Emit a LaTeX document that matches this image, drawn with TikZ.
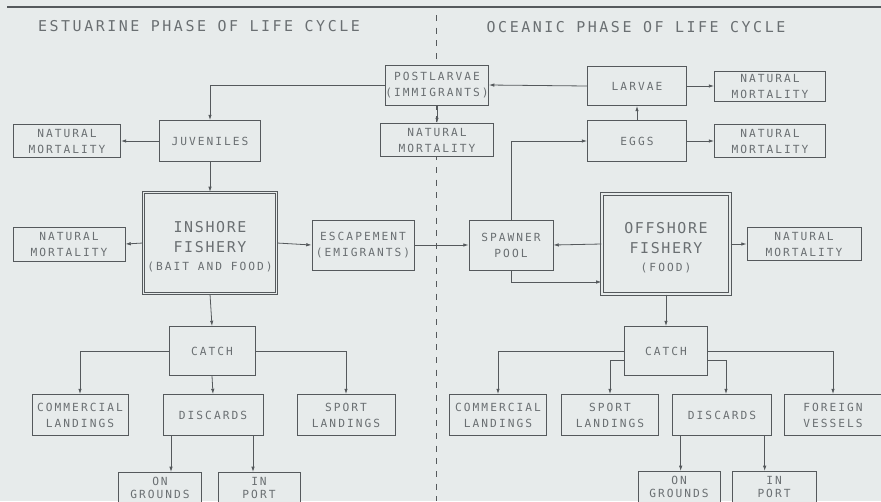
\documentclass[tikz,border=0pt]{standalone}
\usepackage{fontspec}
\setmainfont{Liberation Sans}
\newfontfamily\lettering[LetterSpace=18]{DejaVu Sans Mono}
\newfontfamily\biglettering[LetterSpace=11]{DejaVu Sans Mono}
\newfontfamily\titlelettering[LetterSpace=17]{DejaVu Sans Mono}
\usetikzlibrary{positioning}
\usetikzlibrary {arrows.meta}

\definecolor{paper}{HTML}{E7EBEB}
\definecolor{ink}{HTML}{55595C}
\definecolor{letters}{HTML}{6A6F72}

\begin{document}
\begin{tikzpicture}[x=0.75pt,y=-0.75pt,
  wh/.style 2 args={minimum width=#1*0.75pt,minimum height=#2*0.75pt},
  box/.style={draw=ink,fill=paper,line width=0.6pt,inner sep=0pt,align=center,text=letters,font=\boxfont},
  cutbox/.style={box,anchor=north,inner ysep=3.6pt,text depth=24pt},
  bigbox/.style={box,line width=0.8pt,double=paper,double distance=0.9pt},
  arr/.style={draw=ink,line width=0.6pt,-{Latex[length=4pt,width=2.6pt]}}]

\def\boxfont{\lettering\fontsize{8.4}{12}\selectfont}
\def\titlefont{\titlelettering\fontsize{11.2}{13}\selectfont}
\def\bigfont{\biglettering\fontsize{11.2}{12}\selectfont}

\useasboundingbox (0,0) rectangle (881,501);
\clip (0,0) rectangle (881,501);
\fill[paper] (0,0) rectangle (881,501);

% heading rule and phase divider
\draw[ink,line width=1.1pt] (7,7) -- (881,7);
\draw[ink,line width=0.6pt,dash pattern=on 4.5pt off 5pt] (436,15) -- (436,501);

\node[font=\titlefont,text=letters] (estuary) at (199,26) {ESTUARINE PHASE OF LIFE CYCLE};
\node[font=\titlefont,text=letters] (ocean) at (636,27) {OCEANIC PHASE OF LIFE CYCLE};

% upper part
\node[box,wh={100}{40}] (post) at (437,85) {POSTLARVAE\\(IMMIGRANTS)};
\node[box,wh={113}{33}] (nmpost) at (437,140) {NATURAL\\MORTALITY};
\node[box,wh={101}{41}] (juv) at (210,141) {JUVENILES};
\node[box,wh={107}{33}] (nmjuv) at (67,141) {NATURAL\\MORTALITY};
\node[box,wh={99}{39}] (larv) at (637,86) {LARVAE};
\node[box,wh={111}{30}] (nmlarv) at (770,86) {NATURAL\\MORTALITY};
\node[box,wh={99}{41}] (eggs) at (637,141) {EGGS};
\node[box,wh={111}{33}] (nmeggs) at (770,141) {NATURAL\\MORTALITY};

% fisheries
\node[bigbox,wh={133}{101}] (inshore) at (210,243) {\bigfont\rule{0pt}{14pt}INSHORE\\[3.5pt]\bigfont FISHERY\\[1.5pt]\boxfont (BAIT AND FOOD)};
\node[box,wh={112}{34}] (nmin) at (69,244) {NATURAL\\MORTALITY};
\node[box,wh={102}{50}] (escape) at (363,245) {ESCAPEMENT\\(EMIGRANTS)};
\node[box,wh={84}{50}] (spawn) at (511,245) {SPAWNER\\POOL};
\node[bigbox,wh={128}{100}] (offshore) at (666,244) {\bigfont\rule{0pt}{14pt}OFFSHORE\\[3.5pt]\bigfont FISHERY\\[1.5pt]\boxfont (FOOD)};
\node[box,wh={114}{33}] (nmoff) at (804,244) {NATURAL\\MORTALITY};

% catches
\node[box,wh={86}{49}] (catchA) at (212,351) {CATCH};
\node[box,wh={96}{41}] (comA) at (80,415) {COMMERCIAL\\LANDINGS};
\node[box,wh={100}{41}] (discA) at (213,415) {DISCARDS};
\node[box,wh={98}{41}] (sportA) at (346,415) {SPORT\\LANDINGS};
\node[cutbox,minimum width=83*0.75pt] (ongA) at (160,472) {ON\\[-2.2pt]GROUNDS};
\node[cutbox,minimum width=82*0.75pt] (inpA) at (259,472) {IN\\[-2.2pt]PORT};

\node[box,wh={83}{49}] (catchB) at (666,351) {CATCH};
\node[box,wh={97}{41}] (comB) at (498,415) {COMMERCIAL\\LANDINGS};
\node[box,wh={97}{41}] (sportB) at (610,415) {SPORT\\LANDINGS};
\node[box,wh={99}{41}] (discB) at (722,415) {DISCARDS};
\node[box,wh={97}{41}] (forB) at (833,415) {FOREIGN\\VESSELS};
\node[cutbox,minimum width=82*0.75pt] (ongB) at (679,471) {ON\\[-2.2pt]GROUNDS};
\node[cutbox,minimum width=84*0.75pt] (inpB) at (774,471) {IN\\[-2.2pt]PORT};

\draw[arr] (post.west) -| (juv.north);
\draw[arr] (post.south) -- (nmpost.north);
\draw[arr] (larv.west) -- (post.east);
\draw[arr] (eggs.north) -- (larv.south);
\draw[arr] (larv.east) -- (nmlarv.west);
\draw[arr] (eggs.east) -- (nmeggs.west);
\draw[arr] (juv.west) -- (nmjuv.east);
\draw[arr] (juv.south) -- (inshore.north);
\draw[arr] (inshore.west) -- (nmin.east);
\draw[arr] (inshore.east) -- (escape.west);
\draw[arr] (escape.east) -- (spawn.west);
\draw[arr] (offshore.west) -- (spawn.east);
\draw[arr] (spawn.north) |- (eggs.west);
\draw[arr] (spawn.south) |- ([yshift=-28.5pt]offshore.west);
\draw[arr] (offshore.east) -- (nmoff.west);

\draw[arr] (inshore.south) -- (catchA.north);
\draw[arr] (catchA.west) -| (comA.north);
\draw[arr] (catchA.east) -| (sportA.north);
\draw[arr] (catchA.south) -- (discA.north);
\draw[arr] ([xshift=-31.5pt]discA.south) -- ([xshift=-31.5pt]discA.south |- ongA.north);
\draw[arr] ([xshift=30pt]discA.south) -- ([xshift=30pt]discA.south |- inpA.north);

\draw[arr] (offshore.south) -- (catchB.north);
\draw[arr] (catchB.west) -| (comB.north);
\draw[arr] ([yshift=-7pt]catchB.west) -| (sportB.north);
\draw[arr] ([yshift=-7pt]catchB.east) -| ([xshift=3pt]discB.north);
\draw[arr] (catchB.east) -| (forB.north);
\draw[arr] ([xshift=-31pt]discB.south) -- ([xshift=-31pt]discB.south |- ongB.north);
\draw[arr] ([xshift=32pt]discB.south) -- ([xshift=32pt]discB.south |- inpB.north);
\end{tikzpicture}
\end{document}
